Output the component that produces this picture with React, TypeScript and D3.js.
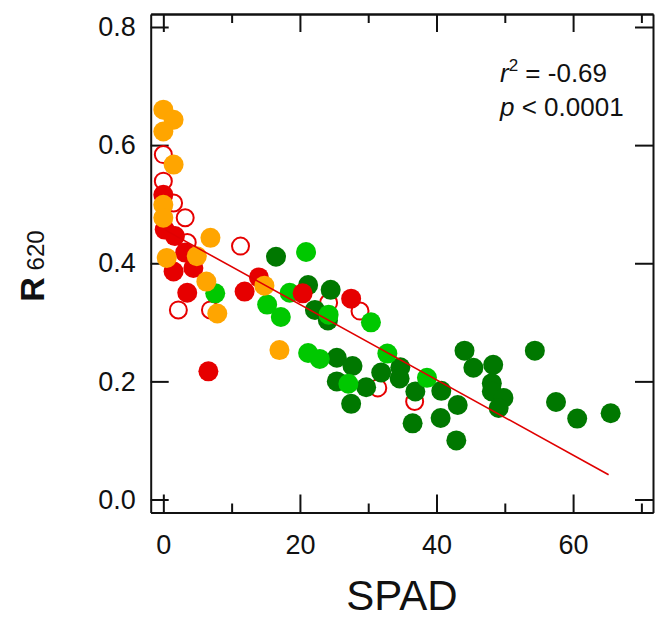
import React, { useRef, useEffect } from 'react';
import * as d3 from 'd3';

/* ─── size + palette ─── */
const W = 665;
const H = 620;
const FONT = "'Liberation Sans', Arial, sans-serif";
const C = {
    red: '#e60000',
    orange: '#ffa500',
    lightGreen: '#00c800',
    darkGreen: '#007800',
    line: '#e00000',
};

/* ─── data: [SPAD, R620] ─── */
const openRed: [number, number][] = [
    [0.0, 0.584], [0.0, 0.539], [1.5, 0.502], [3.2, 0.477], [3.5, 0.435], [11.3, 0.429],
    [2.2, 0.321], [6.9, 0.321], [24.2, 0.333], [28.8, 0.319], [31.4, 0.189], [36.8, 0.166],
];
const darkGreen: [number, number][] = [
    [16.5, 0.411], [21.2, 0.363], [24.5, 0.355], [22.2, 0.321], [24.1, 0.303], [25.4, 0.240],
    [27.7, 0.226], [25.4, 0.200], [29.7, 0.190], [27.5, 0.162], [31.9, 0.215], [34.7, 0.224],
    [34.6, 0.205], [36.9, 0.183], [36.5, 0.129], [40.7, 0.184], [40.6, 0.138], [43.1, 0.160],
    [42.9, 0.100], [44.1, 0.252], [45.4, 0.223], [48.3, 0.228], [48.1, 0.197], [48.1, 0.183],
    [49.8, 0.172], [49.1, 0.155], [54.4, 0.252], [57.5, 0.165], [60.6, 0.137], [65.5, 0.146],
];
const lightGreen: [number, number][] = [
    [7.6, 0.349], [15.2, 0.330], [17.2, 0.309], [18.5, 0.350], [20.9, 0.419], [24.2, 0.313],
    [30.4, 0.300], [21.2, 0.248], [22.9, 0.238], [27.1, 0.196], [32.8, 0.247], [38.6, 0.206],
];
const redFilled: [number, number][] = [
    [0.0, 0.516], [0.2, 0.457], [1.7, 0.446], [3.2, 0.418], [1.5, 0.386], [4.4, 0.392],
    [3.5, 0.350], [6.6, 0.217], [11.9, 0.352], [14.0, 0.376], [20.4, 0.349], [27.5, 0.340],
];
const orange: [number, number][] = [
    [0.0, 0.660], [1.5, 0.643], [0.0, 0.623], [1.5, 0.567], [0.0, 0.499], [0.0, 0.477],
    [6.9, 0.443], [0.5, 0.409], [4.9, 0.412], [6.3, 0.369], [14.8, 0.362], [7.9, 0.315],
    [17.0, 0.253],
];

// fitted line end points
const fitLine: [number, number][] = [[0.3, 0.456], [65.2, 0.042]];

const xMajor = [0, 20, 40, 60];
const xMinor = [10, 30, 50, 70];
const yTicks = [0, 0.2, 0.4, 0.6, 0.8];

export default function App() {
    const svgRef = useRef<SVGSVGElement>(null);

    useEffect(() => {
        if (!svgRef.current) return;
        const svg = d3.select(svgRef.current);
        svg.selectAll('*').remove();

        const left = 150.7, right = 653, top = 14, bottom = 512.5;
        const x = d3.scaleLinear().domain([-1.85, 71.7]).range([left, right]);
        const y = d3.scaleLinear().domain([-0.022, 0.822]).range([bottom, top]);

        const styleAxis = (g: any) => {
            g.selectAll('path.domain').attr('stroke', '#111').attr('stroke-width', 2);
            g.selectAll('line').attr('stroke', '#111').attr('stroke-width', 2);
            g.selectAll('text').attr('fill', '#111').attr('font-size', 27).attr('font-family', FONT);
        };

        // Frame + ticks (all ticks point inward)
        svg.append('g').attr('transform', `translate(0,${bottom})`)
            .call(d3.axisBottom(x).tickValues(xMajor).tickSizeInner(-18).tickSizeOuter(0).tickPadding(22).tickFormat(d3.format('d')))
            .call(styleAxis);
        svg.append('g').attr('transform', `translate(0,${bottom})`)
            .call(d3.axisBottom(x).tickValues(xMinor).tickSizeInner(-9).tickSizeOuter(0).tickFormat(() => ''))
            .call(styleAxis);
        svg.append('g').attr('transform', `translate(0,${top})`)
            .call(d3.axisTop(x).tickValues(xMajor).tickSizeInner(-18).tickSizeOuter(0).tickFormat(() => ''))
            .call(styleAxis);
        svg.append('g').attr('transform', `translate(0,${top})`)
            .call(d3.axisTop(x).tickValues(xMinor).tickSizeInner(-9).tickSizeOuter(0).tickFormat(() => ''))
            .call(styleAxis);
        svg.append('g').attr('transform', `translate(${left},0)`)
            .call(d3.axisLeft(y).tickValues(yTicks).tickSizeInner(-18).tickSizeOuter(0).tickPadding(15).tickFormat(d3.format('.1f')))
            .call(styleAxis);
        svg.append('g').attr('transform', `translate(${right},0)`)
            .call(d3.axisRight(y).tickValues(yTicks).tickSizeInner(-18).tickSizeOuter(0).tickFormat(() => ''))
            .call(styleAxis);

        // Points
        const dots = svg.append('g');
        dots.selectAll('.open').data(openRed).join('circle').attr('class', 'open')
            .attr('cx', d => x(d[0])).attr('cy', d => y(d[1])).attr('r', 8.5)
            .attr('fill', 'none').attr('stroke', C.red).attr('stroke-width', 2);
        const filled: [string, [number, number][]][] = [
            ['dg', darkGreen], ['lg', lightGreen], ['rd', redFilled], ['or', orange],
        ];
        const fills: Record<string, string> = { dg: C.darkGreen, lg: C.lightGreen, rd: C.red, or: C.orange };
        filled.forEach(([k, arr]) => {
            dots.selectAll('.' + k).data(arr).join('circle').attr('class', k)
                .attr('cx', d => x(d[0])).attr('cy', d => y(d[1])).attr('r', 10)
                .attr('fill', fills[k]);
        });

        // Regression line
        svg.append('path').datum(fitLine)
            .attr('fill', 'none').attr('stroke', C.line).attr('stroke-width', 1.6)
            .attr('d', d3.line<[number, number]>().x(d => x(d[0])).y(d => y(d[1])));

        // Stats
        const st = svg.append('g').attr('font-family', FONT).attr('font-size', 26).attr('fill', '#111');
        const t1 = st.append('text').attr('x', 500).attr('y', 82);
        t1.append('tspan').attr('font-style', 'italic').text('r');
        t1.append('tspan').attr('font-size', 17).attr('dy', -11).text('2');
        t1.append('tspan').attr('dy', 11).text(' = -0.69');
        const t2 = st.append('text').attr('x', 500).attr('y', 116);
        t2.append('tspan').attr('font-style', 'italic').text('p');
        t2.append('tspan').text(' < 0.0001');

        // Axis titles
        svg.append('text').attr('x', 402).attr('y', 610).attr('text-anchor', 'middle')
            .attr('font-family', FONT).attr('font-size', 42).attr('fill', '#111').text('SPAD');
        const yt = svg.append('text').attr('transform', 'translate(44,266) rotate(-90)')
            .attr('text-anchor', 'middle').attr('font-family', FONT).attr('fill', '#111');
        yt.append('tspan').attr('font-size', 34).attr('font-weight', 'bold').text('R');
        yt.append('tspan').attr('font-size', 24).text(' 620');
    }, []);

    return (
        <svg ref={svgRef} width={W} height={H}
            style={{ position: 'absolute', left: 0, top: 0, background: '#fff', display: 'block' }} />
    );
}
